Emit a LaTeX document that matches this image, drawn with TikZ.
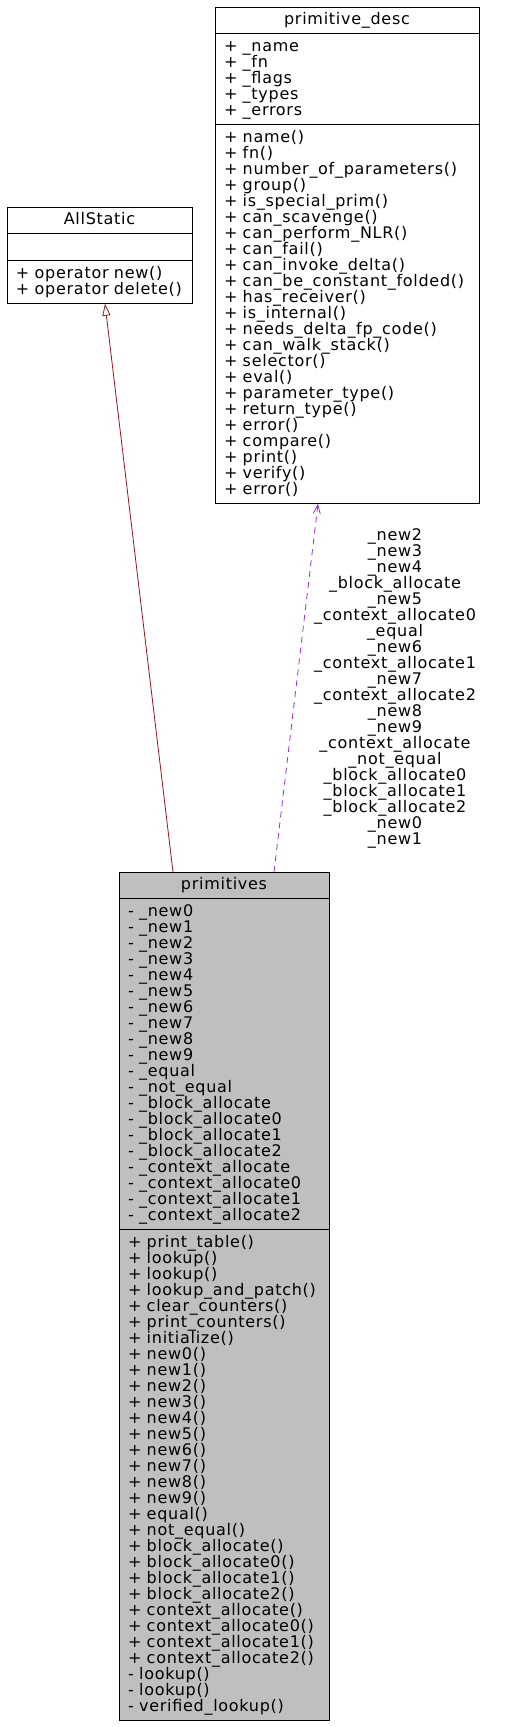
\documentclass[tikz,border=0pt]{standalone}
\usepackage{fontspec}
\newfontfamily\umlfont[LetterSpace=4.5]{DejaVu Sans}
\usetikzlibrary{shapes.multipart, arrows.meta}
\definecolor{umlgray}{HTML}{BFBFBF}
\definecolor{inhred}{HTML}{8B1A1A}
\definecolor{usepurple}{HTML}{9A32CD}
\newcommand\ustrut{\rule[-3.8pt]{0pt}{16pt}}
\newcommand\umltitle[1]{\ustrut\hspace*{\fill}#1\hspace*{\fill}\mbox{}}

\begin{document}
\begin{tikzpicture}[
    x=1pt, y=-1pt,
    umlclass/.style={rectangle split, rectangle split parts=3, draw=black, line width=0.9pt, inner xsep=9pt, inner ysep=5pt, outer sep=0pt, align=left, anchor=north west, font={\umlfont\fontsize{16}{16}\selectfont\lineskiplimit=-20pt\relax}},
    mainclass/.style={umlclass, fill=umlgray},
    inherit/.style={-{Triangle[open, length=12pt, width=8pt]}, color=inhred, line width=0.8pt},
    uses/.style={-{Straight Barb[length=9pt, width=7pt]}, color=usepurple, dash pattern=on 6pt off 5pt, line width=0.8pt},
    edgelabel/.style={text width=200pt, align=center, inner sep=0pt, text=black, font={\umlfont\fontsize{16}{16}\selectfont\lineskiplimit=-20pt\relax}}
]
\useasboundingbox (0,0) rectangle (519,1727);

% Classes
\node[umlclass, text width=167pt] (allstatic) at (7,207) {\umltitle{AllStatic}
  \nodepart{two}\ustrut
  \nodepart{three}\ustrut+ operator new()\\+ operator delete()\ustrut};

\node[umlclass, text width=246pt] (pdesc) at (215,7) {\umltitle{primitive\_desc}
  \nodepart{two}\ustrut+ \_name\\+ \_fn\\+ \_flags\\+ \_types\\+ \_errors\ustrut
  \nodepart{three}\ustrut+ name()\\+ fn()\\+ number\_of\_parameters()\\+ group()\\+ is\_special\_prim()\\+ can\_scavenge()\\+ can\_perform\_NLR()\\+ can\_fail()\\+ can\_invoke\_delta()\\+ can\_be\_constant\_folded()\\+ has\_receiver()\\+ is\_internal()\\+ needs\_delta\_fp\_code()\\+ can\_walk\_stack()\\+ selector()\\+ eval()\\+ parameter\_type()\\+ return\_type()\\+ error()\\+ compare()\\+ print()\\+ verify()\\+ error()\ustrut};

\node[mainclass, text width=192pt] (prims) at (119,872) {\umltitle{primitives}
  \nodepart{two}\ustrut- \_new0\\- \_new1\\- \_new2\\- \_new3\\- \_new4\\- \_new5\\- \_new6\\- \_new7\\- \_new8\\- \_new9\\- \_equal\\- \_not\_equal\\- \_block\_allocate\\- \_block\_allocate0\\- \_block\_allocate1\\- \_block\_allocate2\\- \_context\_allocate\\- \_context\_allocate0\\- \_context\_allocate1\\- \_context\_allocate2\ustrut
  \nodepart{three}\ustrut+ print\_table()\\+ lookup()\\+ lookup()\\+ lookup\_and\_patch()\\+ clear\_counters()\\+ print\_counters()\\+ initialize()\\+ new0()\\+ new1()\\+ new2()\\+ new3()\\+ new4()\\+ new5()\\+ new6()\\+ new7()\\+ new8()\\+ new9()\\+ equal()\\+ not\_equal()\\+ block\_allocate()\\+ block\_allocate0()\\+ block\_allocate1()\\+ block\_allocate2()\\+ context\_allocate()\\+ context\_allocate0()\\+ context\_allocate1()\\+ context\_allocate2()\\- lookup()\\- lookup()\\- verified\_lookup()\ustrut};

% Relations
\draw[inherit] ([xshift=54pt]prims.north west) -- ([xshift=98pt]allstatic.south west);
\draw[uses] ([xshift=155pt]prims.north west) -- node[edgelabel, xshift=99pt] (uselabel) {\ustrut\_new2\\\_new3\\\_new4\\\_block\_allocate\\\_new5\\\_context\_allocate0\\\_equal\\\_new6\\\_context\_allocate1\\\_new7\\\_context\_allocate2\\\_new8\\\_new9\\\_context\_allocate\\\_not\_equal\\\_block\_allocate0\\\_block\_allocate1\\\_block\_allocate2\\\_new0\\\_new1\ustrut} ([xshift=103pt]pdesc.south west);
\end{tikzpicture}
\end{document}
